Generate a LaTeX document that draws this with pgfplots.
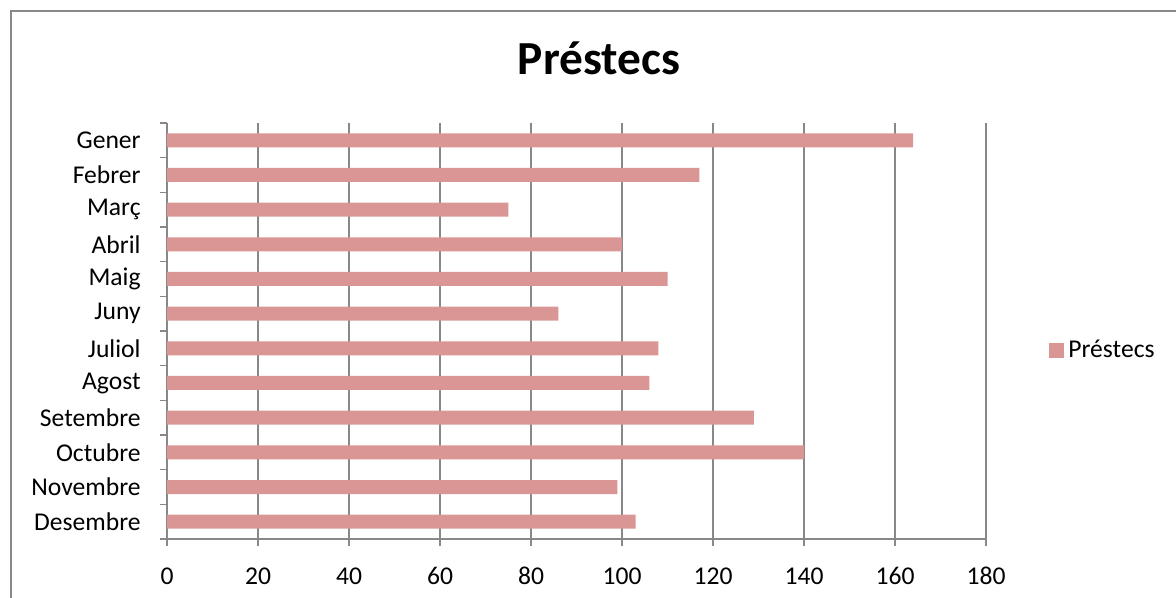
\documentclass[border=0pt]{standalone}
\usepackage{fontspec}
\setmainfont{Carlito}
\usepackage{pgfplots}
\pgfplotsset{compat=1.18}

\definecolor{barcolor}{HTML}{DA9694}
\definecolor{gridgray}{HTML}{888888}

\begin{document}
\begin{tikzpicture}
    \useasboundingbox (0,0) rectangle (588pt,299pt);
    % chart frame (runs past the right and bottom edge)
    \draw[gridgray, line width=0.75pt] (5.5pt,-10pt) -- (5.5pt,293.5pt) -- (600pt,293.5pt);
    \begin{axis}[
        at={(83.5pt,29.5pt)}, anchor=south west,
        width=409.5pt, height=208pt, scale only axis=true,
        xbar, bar width=7pt,
        xmin=0, xmax=180, ymin=0.5, ymax=12.5,
        y dir=reverse,
        axis x line*=bottom, axis y line*=left,
        axis line style={gridgray, line width=0.75pt},
        xtick={0,20,...,180},
        ytick={1,...,12},
        yticklabels={Gener,Febrer,Març,Abril,Maig,Juny,Juliol,Agost,Setembre,Octubre,Novembre,Desembre},
        minor ytick={0.5,1.5,...,12.5},
        xmajorgrids=true,
        grid style={gridgray, line width=0.75pt},
        tick align=outside,
        every tick/.style={gridgray, line width=0.75pt},
        x tick style={gridgray, line width=0.75pt},
        y tick style={draw=none},
        minor y tick style={draw=gridgray, color=gridgray, line width=0.75pt},
        major tick length=3.5pt, minor tick length=3.5pt,
        ticklabel style={font=\fontsize{12.8}{15}\selectfont},
        /pgf/number format/assume math mode=true,
        yticklabel style={inner sep=0pt, xshift=-9.5pt},
        xticklabel style={inner sep=0pt, yshift=-10.5pt},
        every axis title shift=0pt,
        title={\textbf{Préstecs}},
        title style={at={(rel axis cs:0.5275,1.1154)}, anchor=base, font=\fontsize{23.7}{27}\selectfont},
        legend style={at={(rel axis cs:1.0769,0.453)}, anchor=west, draw=none, inner sep=0pt,
            font=\fontsize{12.8}{15}\selectfont},
        legend image code/.code={\fill[barcolor] (0pt,-3.75pt) rectangle (7.5pt,3.75pt);},
    ]
    \addplot[fill=barcolor, draw=none] coordinates {
        (164,1)  % Gener
        (117,2)  % Febrer
        (75,3)   % Març
        (100,4)  % Abril
        (110,5)  % Maig
        (86,6)   % Juny
        (108,7)  % Juliol
        (106,8)  % Agost
        (129,9)  % Setembre
        (140,10) % Octubre
        (99,11)  % Novembre
        (103,12) % Desembre
    };
    \addlegendentry{Préstecs}
    \end{axis}
\end{tikzpicture}
\end{document}
